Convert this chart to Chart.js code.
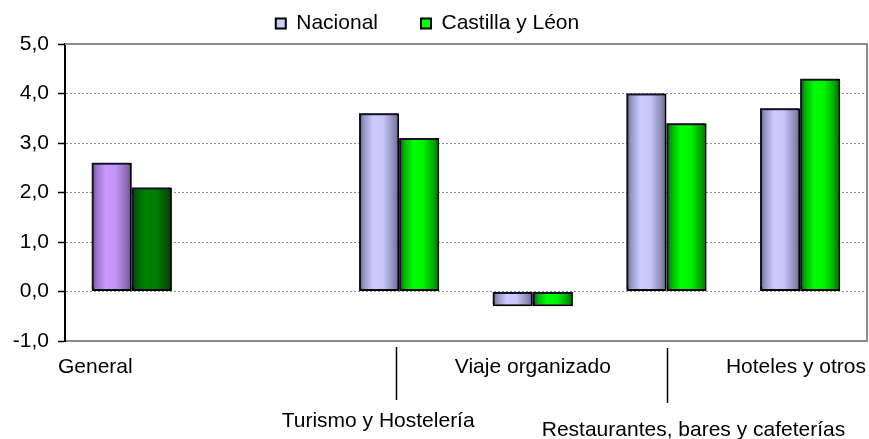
<!DOCTYPE html>
<html>
<head>
<meta charset="utf-8">
<script src="https://cdn.jsdelivr.net/npm/chart.js@4.4.1/dist/chart.umd.min.js"></script>
<style>
  html, body { margin: 0; padding: 0; background: #ffffff; }
  #wrap { width: 869px; height: 439px; }
</style>
</head>
<body>
<div id="wrap"><canvas id="c" width="869" height="439"></canvas></div>
<script>
// ---- data ----
const categories = ['General', '', 'Turismo y Hostelería', 'Viaje organizado', 'Restaurantes, bares y cafeterías', 'Hoteles y otros'];
const seriesNames = ['Nacional', 'Castilla y Léon'];
const nacional = [2.6, null, 3.6, -0.3, 4.0, 3.7];
const castilla = [2.1, null, 3.1, -0.3, 3.4, 4.3];
const yMin = -1;
const yMax = 5;
const yStep = 1;

// ---- styling ----
const FONT = '"Liberation Sans", Arial, sans-serif';
const CAT_PCT = 0.6;
const BAR_PCT = 1.0;
const gradStops = {
  nac:     [[0, '#606088'], [0.12, '#9696c4'], [0.35, '#ccccff'], [0.6, '#c6c6f8'], [0.88, '#8888b0'], [1, '#666688']],
  nacGen:  [[0, '#6a4a8a'], [0.12, '#9a74c6'], [0.35, '#cc99ff'], [0.6, '#c494f6'], [0.88, '#8a68ae'], [1, '#664c84']],
  cyl:     [[0, '#005c00'], [0.12, '#00b000'], [0.35, '#00ff00'], [0.6, '#00f400'], [0.88, '#009c00'], [1, '#005c00']],
  cylGen:  [[0, '#003400'], [0.12, '#006200'], [0.35, '#008200'], [0.6, '#007c00'], [0.88, '#005200'], [1, '#003400']]
};
const flat = { nac: '#ccccff', nacGen: '#cc99ff', cyl: '#00ff00', cylGen: '#008000' };

function barFill(context) {
  const ds = context.datasetIndex;
  const i = context.dataIndex;
  const key = (ds === 0 ? 'nac' : 'cyl') + (i === 0 ? 'Gen' : '');
  const chart = context.chart;
  const xs = chart.scales && chart.scales.x;
  if (!xs || !chart.chartArea || !isFinite(xs.width) || xs.width <= 0) return flat[key];
  const center = xs.getPixelForValue(i);
  const catW = xs.width / categories.length;
  const group = catW * CAT_PCT;
  const bw = group / 2 * BAR_PCT;
  const x0 = center - group / 2 + ds * (group / 2) + (group / 2 - bw) / 2;
  const g = chart.ctx.createLinearGradient(x0, 0, x0 + bw, 0);
  gradStops[key].forEach(s => g.addColorStop(s[0], s[1]));
  return g;
}

// plot frame + bar shadow
const framePlugin = {
  id: 'frame',
  beforeDatasetsDraw(chart) {
    const { ctx, chartArea: a } = chart;
    ctx.save();
    ctx.strokeStyle = '#8c8c8c';
    ctx.lineWidth = 2;
    ctx.beginPath();
    ctx.moveTo(a.left, a.top);
    ctx.lineTo(a.right, a.top);
    ctx.lineTo(a.right, a.bottom);
    ctx.stroke();
    ctx.restore();
    ctx.save();
    ctx.shadowColor = 'rgba(20,20,50,0.85)';
    ctx.shadowOffsetX = -2;
    ctx.shadowOffsetY = -2;
    ctx.shadowBlur = 0;
  },
  afterDatasetsDraw(chart) {
    chart.ctx.restore();
  }
};

// category labels, staggered like the original
const labelPlugin = {
  id: 'catLabels',
  afterDraw(chart) {
    const { ctx, chartArea: a } = chart;
    const xs = chart.scales.x;
    const place = [
      { align: 'left',   x: () => a.left - 7,                      y: 373 },
      null,
      { align: 'center', x: i => xs.getPixelForValue(i) - 21,      y: 427, line: { x: i => xs.getPixelForValue(i) - 3, y1: 347, y2: 400 } },
      { align: 'center', x: i => xs.getPixelForValue(i),           y: 373 },
      { align: 'center', x: i => xs.getPixelForValue(i) + 27,      y: 436, line: { x: i => xs.getPixelForValue(i), y1: 348, y2: 403 } },
      { align: 'right',  x: () => a.right - 1,                     y: 373 }
    ];
    ctx.save();
    ctx.fillStyle = '#000';
    ctx.strokeStyle = '#000';
    ctx.lineWidth = 1.5;
    ctx.font = '21px ' + FONT;
    ctx.textBaseline = 'alphabetic';
    categories.forEach((label, i) => {
      const p = place[i];
      if (!p || !label) return;
      ctx.textAlign = p.align;
      ctx.fillText(label, p.x(i), p.y);
      if (p.line) {
        const lx = Math.round(p.line.x(i)) + 0.5;
        ctx.beginPath();
        ctx.moveTo(lx, p.line.y1);
        ctx.lineTo(lx, p.line.y2);
        ctx.stroke();
      }
    });
    ctx.restore();
  }
};

function fmtTick(v) {
  const r = Math.round(v * 10) / 10;
  const s = (Math.abs(r) < 1e-9 ? 0 : r).toFixed(1);
  return s.replace('.', ',');
}

const chart = new Chart(document.getElementById('c'), {
  type: 'bar',
  data: {
    labels: categories,
    datasets: [
      { label: seriesNames[0], data: nacional, backgroundColor: barFill, borderColor: '#000', borderWidth: 2, borderSkipped: false, categoryPercentage: CAT_PCT, barPercentage: BAR_PCT },
      { label: seriesNames[1], data: castilla, backgroundColor: barFill, borderColor: '#000', borderWidth: 2, borderSkipped: false, categoryPercentage: CAT_PCT, barPercentage: BAR_PCT }
    ]
  },
  options: {
    responsive: false,
    animation: false,
    devicePixelRatio: 1,
    layout: { padding: { top: -30, left: -12, right: 2, bottom: 0 } },
    plugins: {
      tooltip: { enabled: false },
      legend: {
        position: 'top',
        align: 'center',
        labels: {
          font: { family: FONT, size: 21 },
          color: '#000',
          boxWidth: 10,
          boxHeight: 10,
          padding: 43,
          generateLabels(ch) {
            const fills = [flat.nac, flat.cyl];
            return ch.data.datasets.map((d, i) => ({
              text: d.label,
              fillStyle: fills[i],
              strokeStyle: '#000',
              lineWidth: 2,
              hidden: false,
              datasetIndex: i,
              fontColor: '#000'
            }));
          }
        }
      }
    },
    scales: {
      x: {
        offset: true,
        grid: { display: false, drawTicks: false },
        border: { display: true, color: '#8c8c8c', width: 2 },
        ticks: { display: false },
        afterFit(scale) { scale.height = 98; }
      },
      y: {
        min: yMin,
        max: yMax,
        afterFit(scale) { scale.width = 77; },
        ticks: {
          stepSize: yStep,
          color: '#000',
          padding: 9,
          font: { family: FONT, size: 21 },
          callback: v => fmtTick(v)
        },
        grid: {
          color: '#8a8a8a',
          lineWidth: 1,
          drawTicks: true,
          tickLength: 7,
          tickColor: '#000',
          tickWidth: 1.5
        },
        border: { display: true, color: '#000', width: 2, dash: [2, 2] }
      }
    }
  },
  plugins: [framePlugin, labelPlugin]
});
</script>
</body>
</html>
